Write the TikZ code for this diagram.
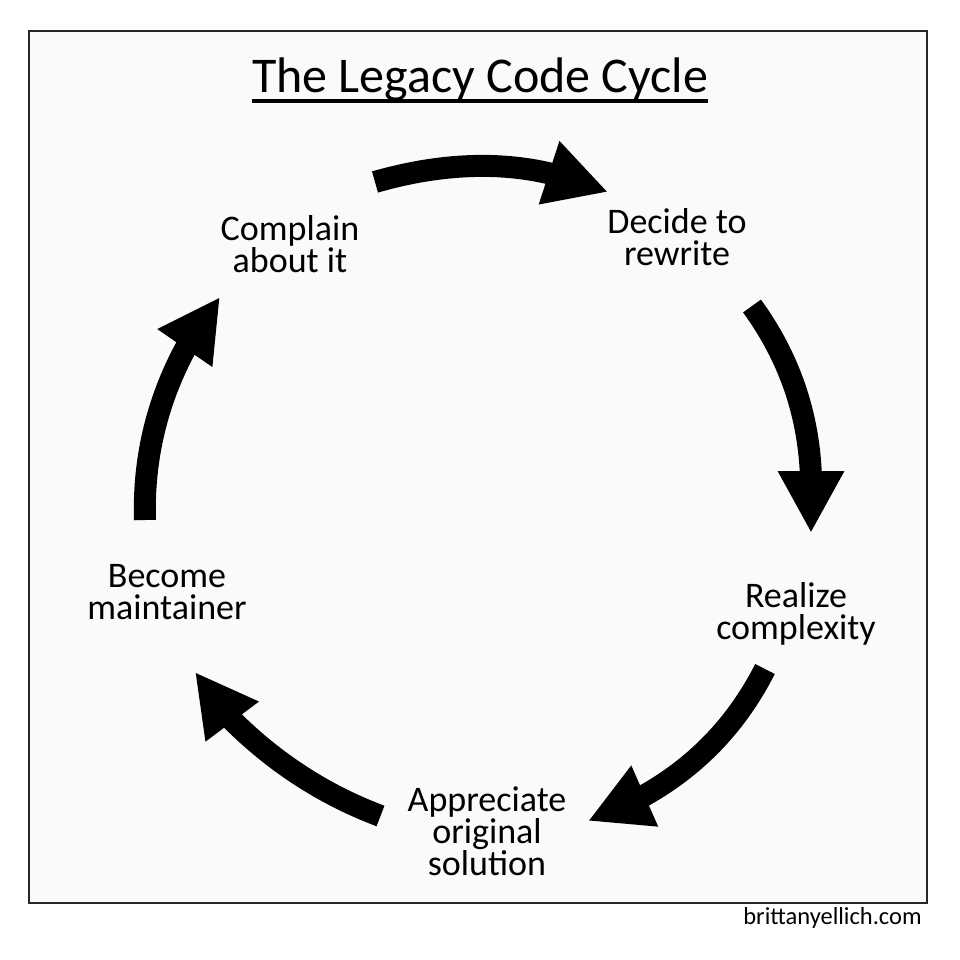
\documentclass[tikz,border=0pt]{standalone}
\usepackage{fontspec}
\setmainfont{Carlito}
\usetikzlibrary{positioning,arrows.meta,calc}
\tikzset{
label/.style={align=center,font=\fontsize{36}{32}\selectfont,inner sep=0pt,text=black},
cyclearrow/.style={line width=22pt,-{Triangle[length=62pt,width=62pt]},draw=black}
}
\begin{document}
\begin{tikzpicture}[x=1pt,y=-1pt]
\useasboundingbox (0,0) rectangle (960,960);
\node[draw=black!85,line width=2pt,fill=black!2,minimum width=898pt,minimum height=872pt,inner sep=0pt] (frame) at (477.5,467) {};
\node[font=\fontsize{50}{50}\selectfont,inner sep=0pt,minimum height=42pt] (title) at (480,79) {The Legacy Code Cycle};
\draw[line width=3.5pt] (title.south west) -- (title.south east);
\node[label] (nc) at (290,244) {Complain\\about it};
\node[label] (nd) at (677,237) {Decide to\\rewrite};
\node[label] (nr) at (796,614) {Realize\\complexity};
\node[label] (na) at (487,831) {Appreciate\\original\\solution};
\node[label] (nb) at (167,592) {Become\\maintainer};
\node[font=\fontsize{24.5}{24}\selectfont,inner sep=0pt] (site) at (832.5,918) {brittanyellich.com};
\draw[cyclearrow] ($(nc)+(85,-62)$) .. controls ($(nc)+(151,-81)$) and ($(nd)+(-175,-76)$) .. ($(nd)+(-121,-62)$) -- ($(nd)+(-69,-45)$);
\draw[cyclearrow] ($(nd)+(75,69)$) .. controls ($(nd)+(112,120)$) and ($(nr)+(13,-200)$) .. ($(nr)+(15,-136)$) -- ($(nr)+(15,-81)$);
\draw[cyclearrow] ($(nr)+(-31,55)$) .. controls ($(nr)+(-60,112)$) and ($(na)+(207,-62)$) .. ($(na)+(151,-32)$) -- ($(na)+(101,-10)$);
\draw[cyclearrow] ($(na)+(-106.5,-15)$) .. controls ($(na)+(-165,-37)$) and ($(nb)+(104,168)$) .. ($(nb)+(61,124)$) -- ($(nb)+(28,80)$);
\draw[cyclearrow] ($(nb)+(-22,-72)$) .. controls ($(nb)+(-24,-135)$) and ($(nc)+(-132,153)$) .. ($(nc)+(-101,98)$) -- ($(nc)+(-70,53)$);
\end{tikzpicture}
\end{document}
